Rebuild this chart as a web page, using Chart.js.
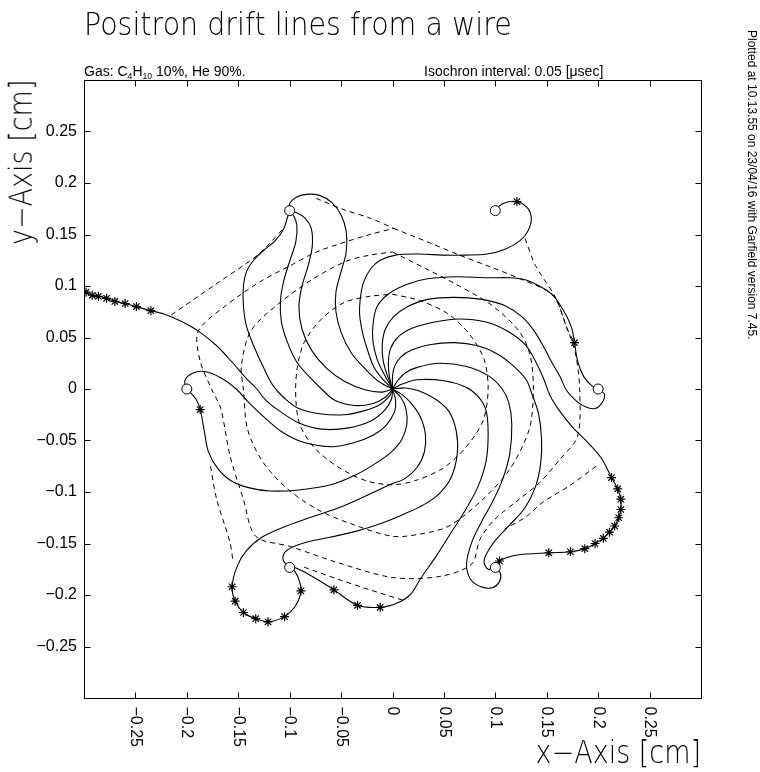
<!DOCTYPE html>
<html><head><meta charset="utf-8">
<script src="https://cdn.jsdelivr.net/npm/chart.js@4.4.1/dist/chart.umd.min.js"></script>
<style>
html,body{margin:0;padding:0;background:#fff;}
#wrap{position:relative;width:760px;height:772px;overflow:hidden;font-family:"Liberation Sans",Arial,sans-serif;color:#000;}
canvas{position:absolute;left:0;top:0;}
.t{position:absolute;white-space:nowrap;line-height:1;}
.thin{font-family:"DejaVu Sans ExtraLight","DejaVu Sans Light","DejaVu Sans","Liberation Sans",Arial,sans-serif;font-weight:200;}
.t sub{font-size:0.62em;vertical-align:-0.3em;line-height:0;}
#title{left:84px;top:9px;font-size:28.5px;transform-origin:0 0;transform:scaleY(1.15);}
#gas{left:84px;top:64px;font-size:14px;}
#iso{left:424px;top:64px;font-size:14px;}
#side{left:758px;top:30px;font-size:12px;transform-origin:0 0;transform:rotate(90deg);}
#xt{right:59px;top:737px;font-size:27px;transform-origin:100% 0;transform:scaleY(1.15);}
#yt{left:5px;top:240px;font-size:27px;transform-origin:0 0;transform:rotate(-90deg) scaleY(1.15);}
</style></head><body>
<div id="wrap">
<canvas id="c" width="760" height="772"></canvas>
<div class="t thin" id="title">Positron drift lines from a wire</div>
<div class="t" id="gas">Gas: C<sub>4</sub>H<sub>10</sub> 10%, He 90%.</div>
<div class="t" id="iso">Isochron interval: 0.05 [μsec]</div>
<div class="t" id="side">Plotted at 10.13.55 on 23/04/16 with Garfield version 7.45.</div>
<div class="t thin" id="xt">x−Axis [cm]</div>
<div class="t thin" id="yt">y−Axis [cm]</div>
</div>
<script>
const xTickValues = [-0.25,-0.2,-0.15,-0.1,-0.05,0,0.05,0.1,0.15,0.2,0.25];
const xTickLabels = ['−0.25','−0.2','−0.15','−0.1','−0.05','0','0.05','0.1','0.15','0.2','0.25'];
const yTickValues = [-0.25,-0.2,-0.15,-0.1,-0.05,0,0.05,0.1,0.15,0.2,0.25];
const yTickLabels = ['−0.25','−0.2','−0.15','−0.1','−0.05','0','0.05','0.1','0.15','0.2','0.25'];

// wires (circles)
const wires = [[0.2,0],[0.1,0.1732],[-0.1,0.1732],[-0.2,0],[-0.1,-0.1732],[0.1,-0.1732]];

// drift lines (cm)
const lineA = [[0,0],[-0.010,0.010],[-0.018,0.021],[-0.024,0.037],[-0.029,0.054],[-0.032,0.073],[-0.031,0.090],[-0.028,0.104],[-0.021,0.117],[-0.012,0.125],[0.003,0.130],[0.026,0.131],[0.049,0.130],[0.070,0.130],[0.092,0.131],[0.110,0.136],[0.124,0.144],[0.132,0.154],[0.135,0.166],[0.131,0.176],[0.121,0.182],[0.110,0.181],[0.103,0.177],[0.100,0.173]];
const lineB = [[0,0],[-0.008,0.014],[-0.015,0.029],[-0.019,0.046],[-0.019,0.062],[-0.015,0.080],[-0.003,0.093],[0.015,0.102],[0.034,0.107],[0.062,0.109],[0.092,0.108],[0.114,0.108],[0.129,0.106],[0.141,0.101],[0.156,0.091],[0.167,0.075],[0.174,0.060],[0.177,0.045],[0.180,0.027],[0.186,0.012],[0.194,0.003],[0.200,0]];
const lineC = [[0,0],[-0.005,0.013],[-0.009,0.027],[-0.010,0.043],[-0.007,0.058],[0.001,0.070],[0.015,0.080],[0.034,0.087],[0.060,0.089],[0.087,0.087],[0.109,0.081],[0.126,0.070],[0.138,0.056],[0.148,0.039],[0.156,0.024],[0.163,0.012],[0.169,-0.001],[0.177,-0.010],[0.187,-0.017],[0.197,-0.019],[0.204,-0.013],[0.206,-0.005],[0.200,0]];
const lineD = [[0,0],[-0.003,0.012],[-0.004,0.025],[-0.002,0.039],[0.006,0.051],[0.019,0.059],[0.041,0.065],[0.065,0.068],[0.091,0.065],[0.112,0.056],[0.129,0.043],[0.139,0.027],[0.147,0.010],[0.153,-0.006],[0.163,-0.022],[0.175,-0.037],[0.190,-0.052],[0.203,-0.067],[0.213,-0.086],[0.219,-0.097],[0.222,-0.107],[0.222,-0.117],[0.220,-0.125],[0.216,-0.133],[0.211,-0.139],[0.205,-0.145],[0.197,-0.150],[0.187,-0.155],[0.173,-0.158],[0.152,-0.159],[0.136,-0.160],[0.123,-0.161],[0.110,-0.164],[0.104,-0.167],[0.099,-0.171],[0.100,-0.173]];
const lineE = [[0,0],[0,0.012],[0.002,0.022],[0.008,0.031],[0.019,0.038],[0.036,0.043],[0.060,0.045],[0.083,0.042],[0.102,0.034],[0.118,0.022],[0.130,0.009],[0.136,-0.006],[0.142,-0.024],[0.145,-0.049],[0.144,-0.073],[0.139,-0.095],[0.129,-0.115],[0.114,-0.132],[0.100,-0.147],[0.092,-0.159],[0.089,-0.168],[0.093,-0.175],[0.100,-0.173]];
const lineF = [[0,0],[0.005,0.008],[0.013,0.016],[0.024,0.021],[0.046,0.025],[0.071,0.022],[0.093,0.013],[0.106,0.001],[0.113,-0.013],[0.116,-0.034],[0.114,-0.063],[0.107,-0.088],[0.097,-0.110],[0.086,-0.130],[0.077,-0.149],[0.072,-0.170],[0.076,-0.185],[0.086,-0.192],[0.097,-0.193],[0.104,-0.187],[0.105,-0.179],[0.100,-0.173]];
const lineG = [[0,0],[0.010,0.005],[0.024,0.009],[0.050,0.008],[0.071,0.002],[0.083,-0.007],[0.091,-0.021],[0.093,-0.044],[0.091,-0.070],[0.083,-0.095],[0.070,-0.119],[0.056,-0.141],[0.042,-0.163],[0.028,-0.183],[0.017,-0.200],[0.004,-0.208],[-0.012,-0.212],[-0.034,-0.210],[-0.057,-0.195],[-0.073,-0.185],[-0.087,-0.177],[-0.096,-0.173],[-0.100,-0.173]];
const lineH = [[0,0],[0.012,0.001],[0.026,-0.002],[0.042,-0.010],[0.055,-0.022],[0.062,-0.041],[0.063,-0.063],[0.057,-0.086],[0.046,-0.101],[0.031,-0.112],[0.010,-0.122],[-0.010,-0.130],[-0.035,-0.138],[-0.061,-0.144],[-0.081,-0.148],[-0.096,-0.153],[-0.105,-0.159],[-0.106,-0.167],[-0.100,-0.173]];
const lineI = [[0,0],[0.010,-0.006],[0.019,-0.015],[0.027,-0.027],[0.032,-0.044],[0.031,-0.061],[0.024,-0.076],[0.012,-0.087],[-0.003,-0.093],[-0.020,-0.101],[-0.049,-0.114],[-0.078,-0.124],[-0.103,-0.133],[-0.127,-0.144],[-0.142,-0.157],[-0.151,-0.172],[-0.156,-0.192],[-0.153,-0.206],[-0.145,-0.217],[-0.133,-0.223],[-0.121,-0.226],[-0.105,-0.221],[-0.094,-0.210],[-0.089,-0.196],[-0.091,-0.185],[-0.095,-0.177],[-0.100,-0.173]];
const lineJ = [[0,0],[0.008,-0.008],[0.013,-0.019],[0.014,-0.034],[0.009,-0.049],[-0.001,-0.061],[-0.016,-0.072],[-0.035,-0.083],[-0.060,-0.093],[-0.091,-0.098],[-0.119,-0.099],[-0.139,-0.096],[-0.157,-0.089],[-0.170,-0.077],[-0.179,-0.061],[-0.183,-0.041],[-0.187,-0.020],[-0.191,-0.010],[-0.197,-0.003],[-0.200,0]];
const lineK = [[0,0],[0.003,-0.011],[0.002,-0.022],[-0.006,-0.035],[-0.019,-0.045],[-0.037,-0.052],[-0.059,-0.056],[-0.086,-0.052],[-0.107,-0.042],[-0.123,-0.029],[-0.139,-0.014],[-0.152,0],[-0.167,0.011],[-0.183,0.017],[-0.195,0.015],[-0.202,0.008],[-0.200,0]];
const lineL = [[0,0],[-0.001,-0.010],[-0.008,-0.021],[-0.021,-0.031],[-0.044,-0.038],[-0.069,-0.039],[-0.091,-0.033],[-0.109,-0.022],[-0.123,-0.011],[-0.132,0],[-0.142,0.010],[-0.155,0.025],[-0.171,0.042],[-0.187,0.055],[-0.204,0.065],[-0.223,0.073],[-0.235,0.076],[-0.249,0.080],[-0.260,0.083],[-0.270,0.085],[-0.278,0.088],[-0.286,0.090],[-0.292,0.091],[-0.299,0.094]];
const lineM = [[0,0],[-0.003,-0.007],[-0.012,-0.015],[-0.027,-0.021],[-0.047,-0.025],[-0.071,-0.024],[-0.091,-0.019],[-0.105,-0.009],[-0.116,0.003],[-0.126,0.022],[-0.135,0.042],[-0.142,0.061],[-0.145,0.081],[-0.145,0.100],[-0.142,0.114],[-0.135,0.125],[-0.126,0.134],[-0.114,0.144],[-0.106,0.155],[-0.102,0.167],[-0.100,0.173]];
const lineN = [[0,0],[-0.007,-0.008],[-0.019,-0.014],[-0.037,-0.016],[-0.056,-0.011],[-0.068,-0.001],[-0.080,0.011],[-0.093,0.026],[-0.102,0.045],[-0.108,0.065],[-0.109,0.085],[-0.106,0.104],[-0.100,0.124],[-0.094,0.143],[-0.093,0.159],[-0.096,0.168],[-0.100,0.173]];
const lineO = [[0,0],[-0.010,-0.003],[-0.026,-0.001],[-0.046,0.007],[-0.064,0.020],[-0.079,0.038],[-0.088,0.058],[-0.091,0.080],[-0.088,0.100],[-0.082,0.120],[-0.078,0.139],[-0.079,0.156],[-0.085,0.166],[-0.093,0.171],[-0.100,0.173]];
const lineP = [[0,0],[-0.013,0.007],[-0.026,0.019],[-0.040,0.035],[-0.050,0.055],[-0.055,0.075],[-0.055,0.094],[-0.050,0.114],[-0.045,0.133],[-0.045,0.153],[-0.050,0.169],[-0.059,0.181],[-0.071,0.188],[-0.084,0.189],[-0.094,0.186],[-0.100,0.180],[-0.100,0.173]];

// star markers along drift lines
const starsA = [[0.121,0.182]];
const starsB = [[0.177,0.045]];
const starsD = [[0.213,-0.086],[0.219,-0.097],[0.222,-0.107],[0.222,-0.117],[0.220,-0.125],[0.216,-0.133],[0.211,-0.139],[0.205,-0.145],[0.197,-0.150],[0.187,-0.155],[0.173,-0.158],[0.152,-0.159],[0.104,-0.167]];
const starsG = [[-0.012,-0.212],[-0.034,-0.210],[-0.057,-0.195]];
const starsI = [[-0.156,-0.192],[-0.153,-0.206],[-0.145,-0.217],[-0.133,-0.223],[-0.121,-0.226],[-0.105,-0.221],[-0.089,-0.196]];
const starsJ = [[-0.187,-0.020]];
const starsL = [[-0.235,0.076],[-0.249,0.080],[-0.260,0.083],[-0.270,0.085],[-0.278,0.088],[-0.286,0.090],[-0.292,0.091],[-0.298,0.094]];

// isochrons (dashed)
const isoA = [[0,0.092],[0.026,0.086],[0.054,0.073],[0.075,0.053],[0.089,0.029],[0.093,0],[0.088,-0.031],[0.071,-0.057],[0.049,-0.077],[0.022,-0.089],[0,-0.093],[-0.026,-0.089],[-0.054,-0.075],[-0.076,-0.057],[-0.090,-0.035],[-0.094,-0.010],[-0.093,0.018],[-0.086,0.045],[-0.069,0.068],[-0.047,0.084],[-0.022,0.090],[0,0.092]];
const isoB = [[0,0.133],[0.032,0.117],[0.065,0.100],[0.097,0.081],[0.124,0.055],[0.134,0.032],[0.137,0],[0.133,-0.039],[0.114,-0.078],[0.088,-0.107],[0.055,-0.133],[0.026,-0.141],[0,-0.143],[-0.040,-0.131],[-0.073,-0.117],[-0.102,-0.097],[-0.126,-0.071],[-0.141,-0.039],[-0.145,0],[-0.147,0.022],[-0.138,0.056],[-0.113,0.081],[-0.077,0.107],[-0.045,0.124],[-0.022,0.130],[0,0.133]];
const isoC = [[0.001,0.156],[0.036,0.142],[0.065,0.130],[0.094,0.119],[0.124,0.107],[0.156,0.091],[0.169,0.061],[0.178,0.034],[0.182,0],[0.180,-0.046],[0.163,-0.068],[0.143,-0.091],[0.122,-0.108],[0.099,-0.127],[0.085,-0.146],[0.077,-0.170],[0.046,-0.182],[0,-0.183],[-0.055,-0.168],[-0.099,-0.153],[-0.133,-0.143],[-0.145,-0.107],[-0.158,-0.065],[-0.167,-0.019],[-0.176,0],[-0.187,0.027],[-0.189,0.056],[-0.162,0.081],[-0.129,0.104],[-0.099,0.120],[-0.074,0.133],[-0.045,0.143],[-0.022,0.150],[0.001,0.156]];
const isoD0 = [[-0.074,0.185],[-0.047,0.174],[-0.022,0.166],[0.001,0.156]];
const isoD1 = [[-0.215,0.072],[-0.173,0.101],[-0.130,0.131],[-0.106,0.156]];
const isoD2 = [[0.129,0.146],[0.139,0.120],[0.159,0.088],[0.170,0.058],[0.177,0.045]];
const isoD3 = [[0.198,-0.075],[0.172,-0.094],[0.146,-0.110],[0.130,-0.124],[0.109,-0.136]];
const isoD4 = [[-0.086,-0.173],[-0.052,-0.185],[-0.022,-0.195],[0.010,-0.205]];
const isoD5 = [[-0.177,-0.075],[-0.171,-0.107],[-0.158,-0.149],[-0.155,-0.168]];

const toXY = a => a.map(p => ({x:p[0], y:p[1]}));
const solidLines = [lineA,lineB,lineC,lineD,lineE,lineF,lineG,lineH,lineI,lineJ,lineK,lineL,lineM,lineN,lineO,lineP];
const isoLines = [isoA,isoB,isoC,isoD0,isoD1,isoD2,isoD3,isoD4,isoD5];
const starSets = [starsA,starsB,starsD,starsG,starsI,starsJ,starsL];

const datasets = [];
datasets.push({data: toXY(wires), showLine:false, pointStyle:'circle', pointRadius:5, pointBackgroundColor:'#fff', pointBorderColor:'#000', pointBorderWidth:1, order:0});
starSets.forEach(s => datasets.push({data: toXY(s), showLine:false, pointStyle:'star', pointRadius:4.5, pointBorderColor:'#000', pointBorderWidth:1.2, order:1}));
solidLines.forEach(l => datasets.push({data: toXY(l), showLine:true, borderColor:'#000', borderWidth:1.1, pointRadius:0, tension:0.35, order:2}));
isoLines.forEach(l => datasets.push({data: toXY(l), showLine:true, borderColor:'#000', borderWidth:1, borderDash:[5,4], pointRadius:0, tension:0.3, order:3}));

const FONT = '"Liberation Sans", Arial, sans-serif';
const framePlugin = {
  id: 'frame',
  afterDraw(chart) {
    const {ctx, chartArea: a, scales: {x, y}} = chart;
    ctx.save();
    ctx.strokeStyle = '#000'; ctx.lineWidth = 1;
    const L = Math.round(a.left)+0.5, T = Math.round(a.top)+0.5, R = Math.round(a.right)+0.5, B = Math.round(a.bottom)+0.5;
    ctx.strokeRect(L, T, R-L, B-T);
    ctx.beginPath();
    xTickValues.forEach(v => { const px = Math.round(x.getPixelForValue(v))+0.5; ctx.moveTo(px,B); ctx.lineTo(px,B-6); ctx.moveTo(px,T); ctx.lineTo(px,T+6); });
    yTickValues.forEach(v => { const py = Math.round(y.getPixelForValue(v))+0.5; ctx.moveTo(L,py); ctx.lineTo(L+6,py); ctx.moveTo(R,py); ctx.lineTo(R-6,py); });
    ctx.stroke();
    ctx.fillStyle = '#000'; ctx.font = '16px ' + FONT; ctx.textAlign = 'left'; ctx.textBaseline = 'middle';
    xTickValues.forEach((v,i) => {
      const px = x.getPixelForValue(v);
      ctx.save(); ctx.translate(px, B + 8); ctx.rotate(Math.PI/2); ctx.fillText(xTickLabels[i], 0, 0); ctx.restore();
    });
    ctx.restore();
  }
};

new Chart(document.getElementById('c'), {
  type: 'scatter',
  data: {datasets},
  options: {
    responsive:false, animation:false, events:[],
    layout:{padding:{top:80, right:59, left:0, bottom:0}},
    plugins:{legend:{display:false}, tooltip:{enabled:false}, title:{display:false}},
    scales:{
      x:{type:'linear', min:-0.3, max:0.3, grid:{display:false, drawTicks:false}, border:{display:false}, ticks:{display:false},
         afterBuildTicks:s=>{s.ticks = xTickValues.map(v=>({value:v}));}, afterFit:s=>{s.height = 74;}},
      y:{type:'linear', min:-0.3, max:0.3, grid:{display:false, drawTicks:false}, border:{display:false},
         ticks:{autoSkip:false, padding:7, color:'#000', font:{family:FONT, size:16}, callback:(v)=>{const i=yTickValues.findIndex(t=>Math.abs(t-v)<1e-9); return i>=0?yTickLabels[i]:'';}},
         afterBuildTicks:s=>{s.ticks = yTickValues.map(v=>({value:v}));}, afterFit:s=>{s.width = 84;}}
    }
  },
  plugins:[framePlugin]
});

const yt = document.getElementById('yt');
yt.style.top = (80 + yt.offsetWidth) + 'px';
</script>
</body></html>
